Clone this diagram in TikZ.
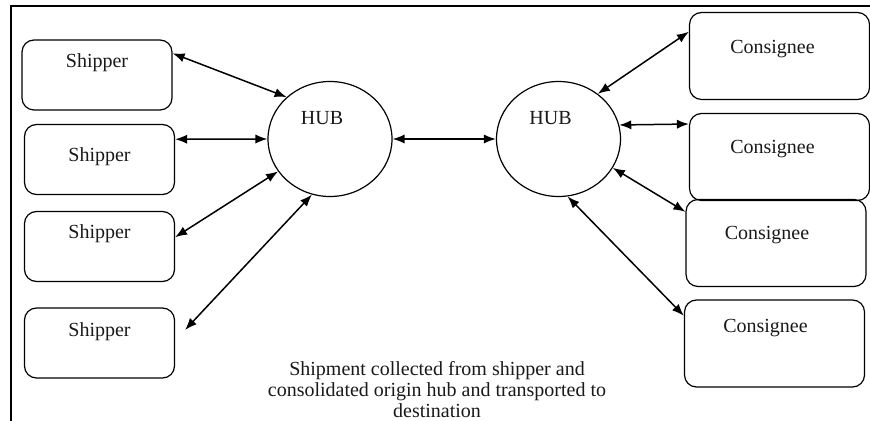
\documentclass[tikz,border=0pt]{standalone}
\usepackage{fontspec}
\setmainfont{Liberation Serif}
\usepackage{tikz}
\usetikzlibrary{arrows.meta,shapes.geometric}

\begin{document}
\begin{tikzpicture}[
    x=0.5pt,
    y=-0.5pt,
    >={Latex[length=6pt,width=4.6pt]},
    shipbox/.style={draw, rounded corners=6pt, minimum width=75pt, minimum height=35pt, inner sep=0pt, line width=0.6pt},
    conbox/.style={draw, rounded corners=6pt, minimum width=90pt, minimum height=43.5pt, inner sep=0pt, line width=0.6pt},
    hub/.style={draw, ellipse, minimum width=62pt, minimum height=57.5pt, inner sep=0pt, line width=0.6pt},
    lbl/.style={anchor=center, font=\fontsize{10}{12}\selectfont, text=black!90},
    link/.style={<->, line width=0.75pt}
]
\useasboundingbox (0,0) rectangle (870,421);
\draw[line width=0.7pt] (11,421) -- (11,6) -- (870,6);

% origin side
\node[shipbox, label={[lbl, yshift=-11.5pt]north:Shipper}] (ship1) at (97,75) {};
\node[shipbox, label={[lbl, yshift=-16.5pt]north:Shipper}] (ship2) at (99.5,159.5) {};
\node[shipbox, label={[lbl, yshift=-11.5pt]north:Shipper}] (ship3) at (99.5,246.5) {};
\node[shipbox, label={[lbl, yshift=-12pt]north:Shipper}] (ship4) at (99.5,343) {};
\node[hub, label={[lbl, xshift=-4pt, yshift=10.5pt]center:HUB}] (hub1) at (330,139) {};

% destination side
\node[hub, label={[lbl, xshift=-4pt, yshift=10.5pt]center:HUB}] (hub2) at (558.5,139) {};
\node[conbox, label={[lbl, xshift=-3.5pt, yshift=-18.5pt]north:Consignee}] (con1) at (779.5,56) {};
\node[conbox, label={[lbl, xshift=-3.5pt, yshift=-18pt]north:Consignee}] (con2) at (779.5,157) {};
\node[conbox, label={[lbl, xshift=-4.5pt, yshift=-18pt]north:Consignee}] (con3) at (776,243) {};
\node[conbox, label={[lbl, xshift=-4.5pt, yshift=-14.5pt]north:Consignee}] (con4) at (774.5,343.5) {};

\coordinate (s4end) at (185,330);

\node[lbl, align=center, font=\fontsize{10}{10.5}\selectfont] (note) at (437,390)
    {Shipment collected from shipper and\\consolidated origin hub and transported to\\destination};

\draw[link] (ship1.16) -- (hub1.136);
\draw[link] (ship2.15) -- (hub1.west);
\draw[link] (ship3.7) -- (hub1.212);
\draw[link] (s4end) -- (hub1.252);
\draw[link] (hub1.east) -- (hub2.west);
\draw[link] (hub2.49) -- (con1.165);
\draw[link] (hub2.13) -- (con2.160);
\draw[link] (hub2.-28) -- (con3.161);
\draw[link] (hub2.-81) -- (con4.163);
\end{tikzpicture}
\end{document}
